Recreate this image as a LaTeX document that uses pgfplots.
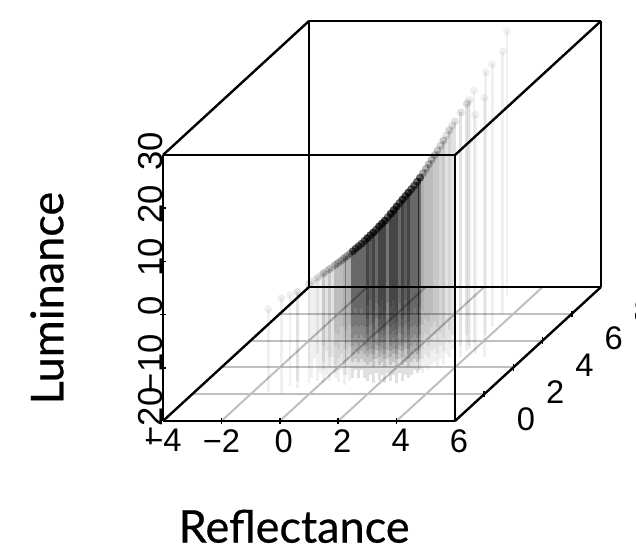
\documentclass[border=0pt]{standalone}
\usepackage{fontspec}
\setmainfont{Liberation Sans}
\newfontfamily\labfont[FakeBold=0.5]{Lato}
\usepackage{pgfplots}
\usepackage{pgfplotstable}
\pgfplotsset{compat=1.18}
\pgfplotstableread{
x y z
-1.5 0.2 -4.5
-1.0 0.1 -2.2
-0.65 0.5 -2.05
-0.9 1 -3.3
-0.95 0.6 -2.9
-0.4 0.8 -1.3
-1 2 -4.3
-0.5 1.2 -1.9
-1.1 2.6 -5
-0.2 1 -0.6
-1.2 3 -5.6
-0.4 1.6 -1.7
0.1 0.8 0.7
-0.7 2.4 -3.3
-1 3.2 -4.9
-0.1 1.4 -0.4
-0.3 2 -1.55
0.2 1 0.95
-0.6 2.8 -3.15
0 1.6 -0.15
0.3 1.2 1.25
-0.9 3.6 -4.75
-0.2 2.2 -1.25
0.55 0.9 2.4
-0.3 2.6 -1.85
-1.2 4.4 -6.35
0.2 1.8 0.55
-0.4 3 -2.45
-0.9 4 -4.95
0.85 0.7 3.75
0.1 2.2 0
-0.5 3.4 -3
-1.3 5 -7
0.6 1.4 2.4
0 2.6 -0.6
-0.6 3.8 -3.6
-1.1 4.8 -6.1
0.9 1 3.85
0.4 2 1.35
-0.1 3 -1.15
-0.6 4 -3.65
-1.2 5.2 -6.65
-0.4 1.8 -1.8
-1.3 3.6 -6.3
-0.7 2.8 -3.55
-1.3 4 -6.55
0.1 1.6 0.25
-1.4 4.6 -7.25
0.1 1.8 0.15
-0.7 3.4 -3.85
-0.1 2.4 -0.95
-1.4 5 -7.45
-0.9 4.2 -5
0.5 1.4 2
-0.3 3.2 -2.1
0.3 2 0.9
-0.35 3.5 -2.4
3.1 1.6 17.45
2.6 2.6 14.95
2.2 3.4 12.95
1.8 4.2 10.95
1.3 5.2 8.45
0.8 6.2 5.95
3 2 17.3
2.5 3 14.8
2.1 3.8 12.8
1.7 4.6 10.8
1.2 5.6 8.3
3.2 1.8 18.65
2.7 2.8 16.15
2.3 3.6 14.15
1.9 4.4 12.15
1.4 5.4 9.65
3.1 2.2 18.5
2.6 3.2 16
2.2 4 14
1.7 5 11.5
1.2 6 9
3.1 2.4 18.85
2.6 3.4 16.35
2.1 4.4 13.85
1.6 5.4 11.35
3.4 2 20.7
2.9 3 18.2
2.4 4 15.7
1.9 5 13.2
3.2 2.6 20.15
2.7 3.6 17.65
2.2 4.6 15.15
3.5 2.2 22.1
3.0 3.2 19.6
2.5 4.2 17.1
2 5.2 14.6
3.2 3 21.05
2.7 4 18.55
3.4 2.8 22.5
2.9 3.8 20
2.4 4.8 17.5
3.2 3.4 21.85
2.7 4.4 19.35
3.5 3 23.7
2.9 4.2 20.7
3.4 3.6 23.9
3.8 2.8 25.9
3.8 3.2 26.5
3.2 4.4 23.5
3.8 3.4 26.8
3.75 3.8 27.5
4.6 2.8 28.7
4.2 3 25
3.65 3.6 25.9
3.86 4.4 29.4
3.77 5 29.4
3.64 6 29.3
3.08 7.4 29.6
}\tailtable
\pgfplotstableread{
x y z
0.9 1.2 3.8
0.3 2.4 0.8
0 3 -0.7
-0.3 3.6 -2.2
-0.6 4.2 -3.7
-1 5 -5.7
-1.5 6 -8.2
0.7 1.8 2.8
0.3 2.6 0.8
0 3.2 -0.7
-0.3 3.8 -2.2
-0.6 4.4 -3.7
-1 5.2 -5.7
-1.6 6.4 -8.7
1.1 1.2 4.75
0.5 2.4 1.75
0.2 3 0.25
-0.1 3.6 -1.25
-0.4 4.2 -2.75
-0.8 5 -4.75
-1.3 6 -7.25
0.9 1.8 3.7
0.5 2.6 1.7
0.2 3.2 0.2
-0.1 3.8 -1.3
-0.4 4.4 -2.8
-0.8 5.2 -4.8
-1.4 6.4 -7.8
1.3 1.2 5.75
0.7 2.4 2.75
0.4 3 1.25
0.1 3.6 -0.25
-0.2 4.2 -1.75
-0.6 5 -3.75
-1.1 6 -6.25
1.5 1 6.75
0.9 2.2 3.75
0.6 2.8 2.25
0.4 3.2 1.25
0.2 3.6 0.25
0 4 -0.75
-0.25 4.5 -2
-0.5 5 -3.25
-0.8 5.6 -4.75
-1.3 6.6 -7.25
1.4 1.4 6.3
0.9 2.4 3.8
0.6 3 2.3
0.4 3.4 1.3
0 4.2 -0.7
-0.5 5.2 -3.2
-0.85 5.9 -4.95
-1.4 7 -7.7
1.8 0.8 8.3
1.2 2 5.3
0.9 2.6 3.8
0.7 3 2.8
0.5 3.4 1.8
0.25 3.9 0.55
0 4.4 -0.7
-0.25 4.9 -1.95
-0.5 5.4 -3.2
-0.9 6.2 -5.2
1.5 1.6 6.85
1 2.6 4.35
0.65 3.3 2.6
0.45 3.7 1.6
0 4.6 -0.65
-0.55 5.7 -3.4
-1.1 6.8 -6.15
1.9 1 8.95
1.3 2.2 5.95
1 2.8 4.45
0.8 3.2 3.45
0.6 3.6 2.45
0.4 4 1.45
0.15 4.5 0.2
-0.1 5 -1.05
-0.4 5.6 -2.55
-0.9 6.6 -5.05
1.8 1.4 8.5
1.3 2.4 6
1 3 4.5
0.8 3.4 3.5
0.6 3.8 2.5
0.4 4.2 1.5
0.15 4.7 0.25
-0.1 5.2 -1
-0.45 5.9 -2.75
-1 7 -5.5
2.2 0.8 10.55
1.6 2 7.55
1.3 2.6 6.05
1.1 3 5.05
0.9 3.4 4.05
0.65 3.9 2.8
0.4 4.4 1.55
0.15 4.9 0.3
-0.1 5.4 -0.95
-0.5 6.2 -2.95
1.9 1.6 9.2
1.4 2.6 6.7
1.05 3.3 4.95
0.65 4.1 2.95
0.15 5.1 0.45
-0.7 6.8 -3.8
2.3 1 11.35
1.7 2.2 8.35
1.4 2.8 6.85
1.2 3.2 5.85
1 3.6 4.85
0.8 4 3.85
0.55 4.5 2.6
0.3 5 1.35
0 5.6 -0.15
-0.5 6.6 -2.65
2.2 1.4 11
1.7 2.4 8.5
1.4 3 7
1.2 3.4 6
1 3.8 5
0.8 4.2 4
0.55 4.7 2.75
0.3 5.2 1.5
-0.05 5.9 -0.25
-0.6 7 -3
2.6 0.8 13.2
2 2 10.2
1.7 2.6 8.7
1.5 3 7.7
1.3 3.4 6.7
1.05 3.9 5.45
0.8 4.4 4.2
0.55 4.9 2.95
0.3 5.4 1.7
-0.1 6.2 -0.3
2.3 1.6 11.85
1.8 2.6 9.35
1.45 3.3 7.6
1.25 3.7 6.6
0.8 4.6 4.35
0.55 5.1 3.1
-0.3 6.8 -1.15
2.7 1 14
2.1 2.2 11
1.8 2.8 9.5
1.6 3.2 8.5
1.4 3.6 7.5
1.2 4 6.5
0.95 4.5 5.25
0.7 5 4
0.4 5.6 2.5
-0.1 6.6 0
2.6 1.4 13.65
2.1 2.4 11.15
1.6 3.4 8.65
1.4 3.8 7.65
1.2 4.2 6.65
0.7 5.2 4.15
0.35 5.9 2.4
-0.2 7 -0.35
2.8 1.2 14.8
2.4 2 12.8
2.1 2.6 11.3
1.9 3 10.3
1.7 3.4 9.3
1.45 3.9 8.05
1.2 4.4 6.8
0.95 4.9 5.55
0.7 5.4 4.3
0.3 6.2 2.3
2.8 1.4 14.95
2.3 2.4 12.45
2 3 10.95
1.7 3.6 9.45
1.4 4.2 7.95
1 5 5.95
0.5 6 3.45
2.7 1.8 14.6
2.3 2.6 12.6
2 3.2 11.1
1.7 3.8 9.6
1.4 4.4 8.1
1 5.2 6.1
0.4 6.4 3.1
2.9 1.6 15.85
2.5 2.4 13.85
2.2 3 12.35
1.9 3.6 10.85
1.6 4.2 9.35
1.2 5 7.35
0.7 6 4.85
2.9 1.8 16.1
2.5 2.6 14.1
2.2 3.2 12.6
1.9 3.8 11.1
1.6 4.4 9.6
1.2 5.2 7.6
0.6 6.4 4.6
}\coretable
\begin{document}
\begin{tikzpicture}
\path[use as bounding box,clip] (0,0) rectangle (477pt,410.25pt);
\begin{axis}[
  at={(231.75pt,194.4pt)}, anchor=origin,
  disabledatascaling,
  x={(21.9pt,0pt)}, y={(10.95pt,10.05pt)}, z={(0pt,3.99pt)},
  xmin=-4, xmax=6, ymin=-2, ymax=8, zmin=-20, zmax=30,
  clip=false,
  3d box=complete,
  axis on top,
  axis line style={black,line width=1.8pt},
  tick align=center,
  major tick length=0pt,
  xtick={-4,-2,0,2,4,6},
  xticklabels={−4,−2,\hspace{6pt}0,\hspace{6pt}2,\hspace{6pt}4,\hspace{6pt}6},
  ytick={0,2,4,6,8},
  yticklabels={0,2,4,6,8},
  ztick={-20,-10,0,10,20,30},
  zticklabels={−20,−10,\hspace{7.5pt}0,10,20,30},
  tick label style={inner sep=0pt},
  xticklabel style={font=\fontsize{24.5}{24.5}\selectfont,anchor=north,yshift=-6pt},
  yticklabel style={font=\fontsize{24.5}{24.5}\selectfont,anchor=center,xshift=31.35pt,yshift=-18.5pt},
  zticklabel style={font=\fontsize{26}{26}\selectfont,rotate=90,anchor=south,xshift=3pt},
  xlabel={Reflectance},
  zlabel={Luminance},
  every axis x label/.style={at={(axis cs:0.49,-2,-20)},anchor=center,yshift=-79pt,font=\labfont\fontsize{33.8}{33.8}\selectfont},
  every axis z label/.style={at={(axis cs:-4,-2,3.1)},anchor=center,rotate=90,yshift=87pt,font=\labfont\fontsize{33.8}{33.8}\selectfont},
]
\pgfplotsinvokeforeach{0,2,4,6}{
\addplot3[forget plot,draw=gray!50,line width=1.5pt] coordinates {(-4,#1,-20) (6,#1,-20)};
}
\pgfplotsinvokeforeach{-2,0,2,4}{
\addplot3[forget plot,draw=gray!50,line width=1.5pt] coordinates {(#1,-2,-20) (#1,8,-20)};
}
\pgfplotsinvokeforeach{-2,0,2,4}{
\addplot3[forget plot,black,line width=1.2pt] coordinates {(#1,-2,-19.4) (#1,-2,-20.6)};
}
\pgfplotsinvokeforeach{0,2,4,6}{
\addplot3[forget plot,black,line width=1.2pt] coordinates {(6,#1,-19.4) (6,#1,-20.6)};
}
\pgfplotsinvokeforeach{-10,0,10,20}{
\addplot3[forget plot,black,line width=1.2pt] coordinates {(-4.09,-2,#1) (-3.91,-2,#1)};
}
\addplot3[only marks,mark=*,mark size=3pt,mark options={draw opacity=0,fill=black,fill opacity=0.06},
  error bars/.cd,z dir=minus,z explicit,error mark=none,
  error bar style={line width=2.2pt,black,opacity=0.06}]
  table[x=x,y=y,z=z,z error expr=\thisrow{z}+20] {\tailtable};
\addplot3[only marks,mark=*,mark size=3pt,mark options={draw opacity=0,fill=black,fill opacity=0.12},
  error bars/.cd,z dir=minus,z explicit,error mark=none,
  error bar style={line width=2.2pt,black,opacity=0.12}]
  table[x=x,y=y,z=z,z error expr=\thisrow{z}+20] {\coretable};
\end{axis}
\end{tikzpicture}
\end{document}
